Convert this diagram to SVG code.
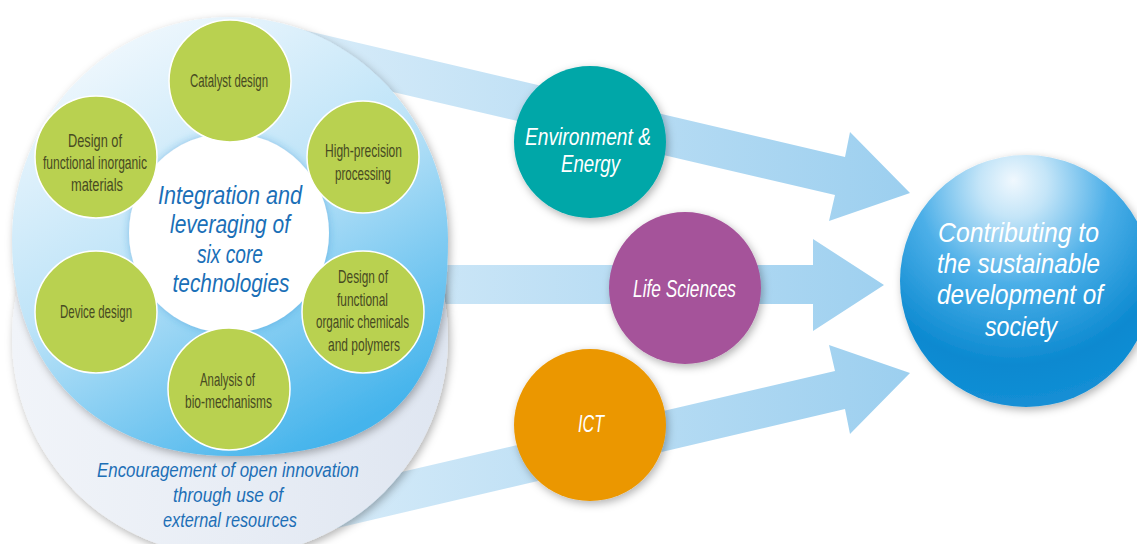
<svg xmlns="http://www.w3.org/2000/svg" width="1137" height="544" viewBox="0 0 1137 544">
<defs>
<style>
.g{font-family:"Liberation Sans",Arial,sans-serif;font-size:19px;fill:#474a22;text-anchor:middle}
.b{font-family:"Liberation Sans",Arial,sans-serif;font-style:italic;font-size:25.5px;fill:#1a6fb7;text-anchor:middle}
.e{font-family:"Liberation Sans",Arial,sans-serif;font-style:italic;font-size:19.5px;fill:#1d6fb6;text-anchor:middle}
.w{font-family:"Liberation Sans",Arial,sans-serif;font-style:italic;font-size:23.5px;fill:#ffffff;text-anchor:middle}
.r{font-family:"Liberation Sans",Arial,sans-serif;font-style:italic;font-size:27.5px;fill:#ffffff;text-anchor:middle}
.green{fill:#b9d150;stroke:#ffffff;stroke-width:1.5}
.arrow{fill:url(#arrowGrad)}
</style>
<linearGradient id="arrowGrad" gradientUnits="userSpaceOnUse" x1="300" y1="0" x2="910" y2="0">
<stop offset="0" stop-color="#d8ecf9"/>
<stop offset="1" stop-color="#9ccfef"/>
</linearGradient>
<linearGradient id="blueGrad" x1="0.25" y1="0.05" x2="0.75" y2="0.95">
<stop offset="0" stop-color="#eef7fd"/>
<stop offset="0.45" stop-color="#bfe4f8"/>
<stop offset="1" stop-color="#45b4ec"/>
</linearGradient>
<linearGradient id="paleGrad" x1="0" y1="0" x2="1" y2="0">
<stop offset="0" stop-color="#f1f4f9"/>
<stop offset="1" stop-color="#dfe6f1"/>
</linearGradient>
<radialGradient id="sphereGrad" cx="0.45" cy="0.18" r="0.9" fx="0.45" fy="0.1">
<stop offset="0" stop-color="#f0f8fe"/>
<stop offset="0.15" stop-color="#c4e5f8"/>
<stop offset="0.42" stop-color="#4cafe8"/>
<stop offset="0.75" stop-color="#0b89d0"/>
<stop offset="1" stop-color="#1892d8"/>
</radialGradient>
<filter id="shadow" x="-20%" y="-20%" width="140%" height="140%">
<feDropShadow dx="2" dy="3" stdDeviation="4" flood-color="#000000" flood-opacity="0.3"/>
</filter>
<filter id="glow" x="-20%" y="-20%" width="140%" height="140%">
<feDropShadow dx="0" dy="0" stdDeviation="4" flood-color="#2f8fd2" flood-opacity="0.45"/>
</filter>
</defs>
<rect width="1137" height="544" fill="#ffffff"/>

<g id="connectors">
<polygon class="arrow" points="280,24.6 845,157 850,132 910,193 829,221 835,195 280,65.7"/>
<polygon class="arrow" points="430,265 813,265 813,239 884,285 813,331 813,304 430,304"/>
<polygon class="arrow" points="280,541.4 845,409 850,434 910,373 829,345 835,371 280,500.3"/>
</g>

<g id="open-innovation">
<circle cx="230" cy="338" r="218" fill="url(#paleGrad)" filter="url(#shadow)"/>
<text class="e" x="228" y="477" textLength="262" lengthAdjust="spacingAndGlyphs">Encouragement of open innovation</text>
<text class="e" x="228" y="502" textLength="110" lengthAdjust="spacingAndGlyphs">through use of</text>
<text class="e" x="230" y="527" textLength="134" lengthAdjust="spacingAndGlyphs">external resources</text>
</g>

<g id="core-disc">
<path d="M230 17 C350 17 448 117 448 240 C448 395 387 456 230 456 C99 456 12 370 12 240 C12 117 110 17 230 17 Z" fill="url(#blueGrad)" filter="url(#shadow)"/>
</g>

<g id="core-center">
<circle cx="229" cy="233" r="100" fill="#ffffff" filter="url(#glow)"/>
<text class="b" x="230" y="203.5" textLength="144" lengthAdjust="spacingAndGlyphs">Integration and</text>
<text class="b" x="230" y="233" textLength="120" lengthAdjust="spacingAndGlyphs">leveraging of</text>
<text class="b" x="230" y="262.5" textLength="66" lengthAdjust="spacingAndGlyphs">six core</text>
<text class="b" x="231" y="292" textLength="117" lengthAdjust="spacingAndGlyphs">technologies</text>
</g>

<g id="catalyst-design">
<circle class="green" cx="230" cy="81" r="61"/>
<text class="g" x="229" y="87" textLength="78" lengthAdjust="spacingAndGlyphs">Catalyst design</text>
</g>

<g id="inorganic-materials">
<circle class="green" cx="96" cy="157" r="61"/>
<text class="g" x="95" y="146.5" textLength="54" lengthAdjust="spacingAndGlyphs">Design of</text>
<text class="g" x="95" y="168.7" textLength="104" lengthAdjust="spacingAndGlyphs">functional inorganic</text>
<text class="g" x="97" y="191" textLength="52" lengthAdjust="spacingAndGlyphs">materials</text>
</g>

<g id="high-precision">
<circle class="green" cx="363" cy="157" r="56"/>
<text class="g" x="363.5" y="157" textLength="77" lengthAdjust="spacingAndGlyphs">High-precision</text>
<text class="g" x="363" y="179.5" textLength="56" lengthAdjust="spacingAndGlyphs">processing</text>
</g>

<g id="device-design">
<circle class="green" cx="96" cy="312" r="61"/>
<text class="g" x="96" y="318" textLength="72" lengthAdjust="spacingAndGlyphs">Device design</text>
</g>

<g id="organic-chemicals">
<circle class="green" cx="363" cy="312" r="61"/>
<text class="g" x="363" y="283.3" textLength="50" lengthAdjust="spacingAndGlyphs">Design of</text>
<text class="g" x="362.5" y="306" textLength="51" lengthAdjust="spacingAndGlyphs">functional</text>
<text class="g" x="362.5" y="328.3" textLength="93" lengthAdjust="spacingAndGlyphs">organic chemicals</text>
<text class="g" x="364" y="350.7" textLength="72" lengthAdjust="spacingAndGlyphs">and polymers</text>
</g>

<g id="bio-mechanisms">
<circle class="green" cx="229" cy="389" r="61"/>
<text class="g" x="227.5" y="385.7" textLength="55" lengthAdjust="spacingAndGlyphs">Analysis of</text>
<text class="g" x="228.5" y="408.3" textLength="87" lengthAdjust="spacingAndGlyphs">bio-mechanisms</text>
</g>

<g id="environment-energy">
<circle cx="590" cy="142" r="76" fill="#00a7a8" filter="url(#shadow)"/>
<text class="w" x="588" y="145" textLength="126" lengthAdjust="spacingAndGlyphs">Environment &amp;</text>
<text class="w" x="590.5" y="171.7" textLength="59" lengthAdjust="spacingAndGlyphs">Energy</text>
</g>

<g id="life-sciences">
<circle cx="685" cy="288" r="76" fill="#a5539a" filter="url(#shadow)"/>
<text class="w" x="684.5" y="296.7" textLength="103" lengthAdjust="spacingAndGlyphs">Life Sciences</text>
</g>

<g id="ict">
<circle cx="590" cy="425" r="76" fill="#eb9700" filter="url(#shadow)"/>
<text class="w" x="591" y="431.7" textLength="26" lengthAdjust="spacingAndGlyphs">ICT</text>
</g>

<g id="sustainable-development">
<circle cx="1026" cy="281" r="126" fill="url(#sphereGrad)" filter="url(#shadow)"/>
<text class="r" x="1018.5" y="242" textLength="161" lengthAdjust="spacingAndGlyphs">Contributing to</text>
<text class="r" x="1018.5" y="273" textLength="163" lengthAdjust="spacingAndGlyphs">the sustainable</text>
<text class="r" x="1020" y="304" textLength="166" lengthAdjust="spacingAndGlyphs">development of</text>
<text class="r" x="1021" y="336" textLength="72" lengthAdjust="spacingAndGlyphs">society</text>
</g>
</svg>
